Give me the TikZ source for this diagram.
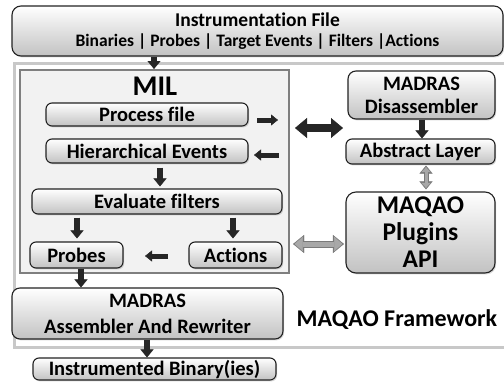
\documentclass[tikz,border=0pt]{standalone}
\usepackage{fontspec}
\setmainfont{Carlito}[Ligatures=NoCommon]
\usetikzlibrary{arrows.meta,shadows}
\definecolor{boxline}{HTML}{222222}
\definecolor{boxbot}{HTML}{C2C2C2}
\definecolor{milfill}{HTML}{F2F2F2}
\definecolor{milline}{HTML}{7F7F7F}
\definecolor{frameline}{HTML}{C8C8C8}
\definecolor{arrblk}{HTML}{262626}
\definecolor{arrgray}{HTML}{A8A8A8}
\definecolor{arrgrayline}{HTML}{7A7A7A}
\newcommand\fz[2]{\fontsize{#1}{#2}\selectfont}
\tikzset{
  gbox/.style={draw=boxline, line width=1.1pt, rounded corners=6pt,
    top color=white, bottom color=boxbot, inner sep=0pt, align=center,
    font=\bfseries\fz{20.5}{23}, text=black,
    drop shadow={shadow xshift=1.2pt, shadow yshift=-1.4pt, opacity=0.3}},
  blk/.style={draw=arrblk, line width=6pt,
    -{Triangle[width=13pt,length=8pt,line width=0.4pt]}},
  blksmall/.style={draw=arrblk, line width=5pt,
    -{Triangle[width=11pt,length=7pt,line width=0.4pt]}},
  blkdbl/.style={draw=arrblk, line width=7.5pt,
    {Triangle[width=20pt,length=12pt,line width=0.4pt]}-{Triangle[width=20pt,length=12pt,line width=0.4pt]}},
  grydbl/.style={draw=arrgrayline, line width=#1,
    {Triangle[width=2.6*#1,length=1.6*#1,line width=0.4pt]}-{Triangle[width=2.6*#1,length=1.6*#1,line width=0.4pt]},
    postaction={draw=arrgray, line width=#1-2pt,
    {Triangle[width=2.6*#1-4pt,length=1.6*#1-3pt,line width=0.4pt]}-{Triangle[width=2.6*#1-4pt,length=1.6*#1-3pt,line width=0.4pt]}, shorten <=1.6pt, shorten >=1.6pt}},
}
\begin{document}
\begin{tikzpicture}[x=1pt,y=-1pt]
\clip (0,0) rectangle (504,386);
\fill[white] (0,0) rectangle (504,386);
% framework frame
\node[draw=frameline, line width=3pt, fill=white, minimum width=498pt, minimum height=284pt, inner sep=0pt] (fw) at (263,205) {};
\node[font=\bfseries\fz{24}{27}] (fwlabel) at (397,320) {MAQAO Framework};
% MIL container
\node[draw=milline, line width=2pt, fill=milfill, minimum width=269pt, minimum height=203pt, inner sep=0pt] (mil) at (154.5,171.5) {};
\node[font=\bfseries\fz{28.5}{30}] (miltitle) at (155,86) {MIL};
% top box
\node[gbox, rounded corners=9pt, minimum width=491pt, minimum height=50pt, font=\bfseries\fz{19.5}{21}] (top) at (257.5,31)
  {Instrumentation File\\[-1pt]\fz{17.5}{19}Binaries | Probes | Target Events | Filters |Actions};
% MIL inner boxes
\node[gbox, minimum width=202pt, minimum height=23pt] (proc) at (147,114.5) {Process file};
\node[gbox, minimum width=202pt, minimum height=24pt] (hier) at (147,151) {Hierarchical Events};
\node[gbox, minimum width=250pt, minimum height=25pt] (eval) at (157,201.5) {Evaluate filters};
\node[gbox, minimum width=93pt, minimum height=26pt] (probes) at (76.5,255) {Probes};
\node[gbox, minimum width=93pt, minimum height=26pt] (actions) at (235.5,255) {Actions};
% right column
\node[gbox, rounded corners=8pt, minimum width=147pt, minimum height=48pt] (disasm) at (421.5,95)
  {MADRAS\\Disassembler};
\node[gbox, minimum width=149pt, minimum height=25pt] (abstract) at (420.5,151.5) {Abstract Layer};
\node[gbox, rounded corners=10pt, minimum width=149pt, minimum height=81pt, font=\bfseries\fz{25.5}{27}] (plugins) at (420.5,232.5)
  {MAQAO\\Plugins\\API};
% bottom
\node[gbox, rounded corners=8pt, minimum width=271pt, minimum height=51pt, font=\bfseries\fz{20.5}{26}] (asm) at (147.5,313.5)
  {MADRAS\\Assembler And Rewriter};
\node[gbox, minimum width=243pt, minimum height=22pt] (out) at (154.5,369) {Instrumented Binary(ies)};
% free arrow ends
\coordinate (pa1) at (257,120);
\coordinate (pa2) at (278,120);
\coordinate (ha1) at (279,155);
\coordinate (ha2) at (254,155);
\coordinate (pr1) at (168,256);
\coordinate (pr2) at (145,256);
\coordinate (bd1) at (295,128);
\coordinate (bd2) at (343,128);
\coordinate (gd1) at (293,244);
\coordinate (gd2) at (344,244);
% arrows
\draw[blk] (154,0 |- top.south) -- (154,0 |- mil.north);
\draw[blksmall] (pa1) -- (pa2);
\draw[blksmall] (ha1) -- (ha2);
\draw[blk] ([yshift=-4pt]160,0 |- hier.south) -- ([yshift=2pt]160,0 |- eval.north);
\draw[blk] ([yshift=-3pt]77,0 |- eval.south) -- ([yshift=3pt]77,0 |- probes.north);
\draw[blk] ([yshift=-3pt]233,0 |- eval.south) -- ([yshift=3pt]233,0 |- actions.north);
\draw[blksmall] (pr1) -- (pr2);
\draw[blk] (81,0 |- probes.south) -- (81,0 |- asm.north);
\draw[blk] (147,0 |- asm.south) -- (147,0 |- out.north);
\draw[blk] (422,0 |- disasm.south) -- (422,0 |- abstract.north);
\draw[blkdbl] (bd1) -- (bd2);
\draw[grydbl=5pt] ([yshift=-1pt]426,0 |- abstract.south) -- ([yshift=2pt]426,0 |- plugins.north);
\draw[grydbl=7pt] (gd1) -- (gd2);
\end{tikzpicture}
\end{document}
